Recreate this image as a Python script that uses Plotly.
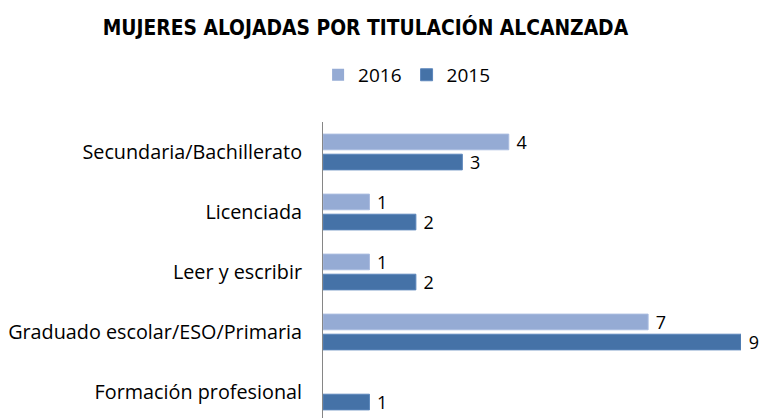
import plotly.graph_objects as go

categorias = ["Formación profesional", "Graduado escolar/ESO/Primaria", "Leer y escribir",
              "Licenciada", "Secundaria/Bachillerato"]
valores_2016 = [0, 7, 1, 1, 4]
valores_2015 = [1, 9, 2, 2, 3]


def etiquetas(vals):
    # el valor cero no lleva etiqueta
    return [" " + str(v) if v else "" for v in vals]


def bordes(vals):
    return [1 if v else 0 for v in vals]


fig = go.Figure()
fig.add_trace(go.Bar(y=categorias, x=valores_2015, name="2015", orientation="h",
                     marker=dict(color="#4572a7", line=dict(color="#5b86bb", width=bordes(valores_2015))),
                     text=etiquetas(valores_2015), textposition="outside", constraintext="none",
                     textfont=dict(size=18, color="#000000"), cliponaxis=False))
fig.add_trace(go.Bar(y=categorias, x=valores_2016, name="2016", orientation="h",
                     marker=dict(color="#95abd4", line=dict(color="#a9bce0", width=bordes(valores_2016))),
                     text=etiquetas(valores_2016), textposition="outside", constraintext="none",
                     textfont=dict(size=18, color="#000000"), cliponaxis=False))

fig.update_layout(width=767, height=418,
                  margin=dict(l=315, r=34, t=114, b=4),
                  barmode="group", bargap=0.33, bargroupgap=0.22,
                  plot_bgcolor="white", paper_bgcolor="white",
                  font=dict(family="Open Sans", size=17, color="#000000"),
                  title=dict(text="<b>MUJERES ALOJADAS POR TITULACIÓN ALCANZADA</b>",
                             x=0.466, xanchor="center", y=0.952, yanchor="middle",
                             font=dict(family="DejaVu Sans Condensed, Roboto, sans-serif",
                                       size=20.8, color="#000000")),
                  legend=dict(orientation="h", x=0.2, xanchor="center", y=1.157, yanchor="middle",
                              traceorder="reversed", font=dict(size=19)),
                  showlegend=True)
fig.update_xaxes(range=[0, 9], showticklabels=False, showgrid=False, zeroline=False,
                 automargin=False)
fig.update_yaxes(showline=True, linecolor="#868686", linewidth=1, ticks="",
                 ticklabelstandoff=16, tickfont=dict(size=19.8), automargin=False)

fig.write_html("out.html")
